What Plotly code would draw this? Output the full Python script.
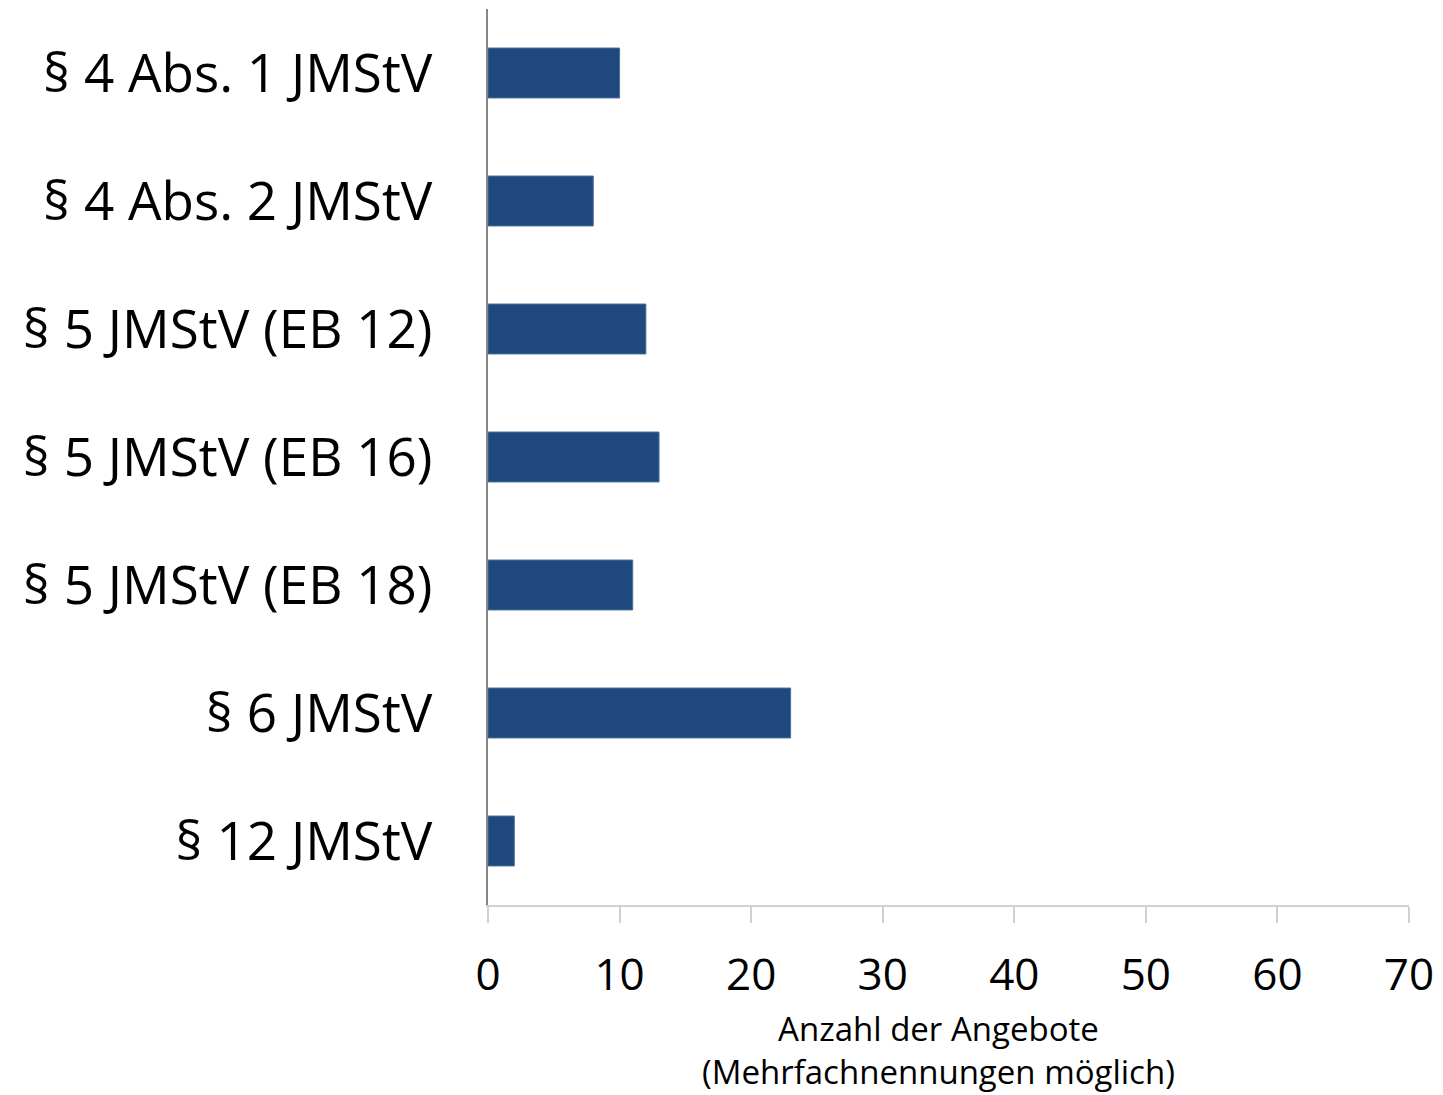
import plotly.graph_objects as go

# Categories, top to bottom as displayed
categories = [
    "§ 4 Abs. 1 JMStV",
    "§ 4 Abs. 2 JMStV",
    "§ 5 JMStV (EB 12)",
    "§ 5 JMStV (EB 16)",
    "§ 5 JMStV (EB 18)",
    "§ 6 JMStV",
    "§ 12 JMStV",
]
counts = [10, 8, 12, 13, 11, 23, 2]
x_ticks = [0, 10, 20, 30, 40, 50, 60, 70]
x_title = "Anzahl der Angebote<br>(Mehrfachnennungen möglich)"

FONT = "Open Sans"

fig = go.Figure(
    go.Bar(
        x=counts,
        y=categories,
        orientation="h",
        width=0.39,
        marker=dict(color="#1f497d", line=dict(color="#4a6f9c", width=1)),
        hoverinfo="x+y",
    )
)

fig.update_layout(
    width=1443,
    height=1095,
    margin=dict(l=488, r=34, t=9, b=190),
    paper_bgcolor="white",
    plot_bgcolor="white",
    showlegend=False,
    font=dict(family=FONT, color="black"),
)

fig.update_xaxes(
    range=[0, 70],
    tickvals=x_ticks,
    ticktext=[str(v) for v in x_ticks],
    showgrid=False,
    zeroline=False,
    showline=True,
    linecolor="#d0d0d0",
    linewidth=2,
    ticks="outside",
    ticklen=16,
    tickwidth=2,
    tickcolor="#d0d0d0",
    tickfont=dict(family=FONT, size=44, color="black"),
    ticklabelstandoff=14,
)

# Two-line axis title, placed slightly left of the plot-area centre
fig.add_annotation(
    text=x_title,
    xref="paper",
    yref="paper",
    x=0.4886,
    y=-0.162,
    xanchor="center",
    yanchor="middle",
    showarrow=False,
    font=dict(family=FONT, size=33, color="black"),
)

fig.update_yaxes(
    categoryorder="array",
    categoryarray=categories[::-1],
    showgrid=False,
    zeroline=False,
    showline=True,
    linecolor="#868686",
    linewidth=2,
    ticks="",
    tickfont=dict(family=FONT, size=53, color="black"),
    ticklabelstandoff=43,
)

fig.write_html("out.html")
